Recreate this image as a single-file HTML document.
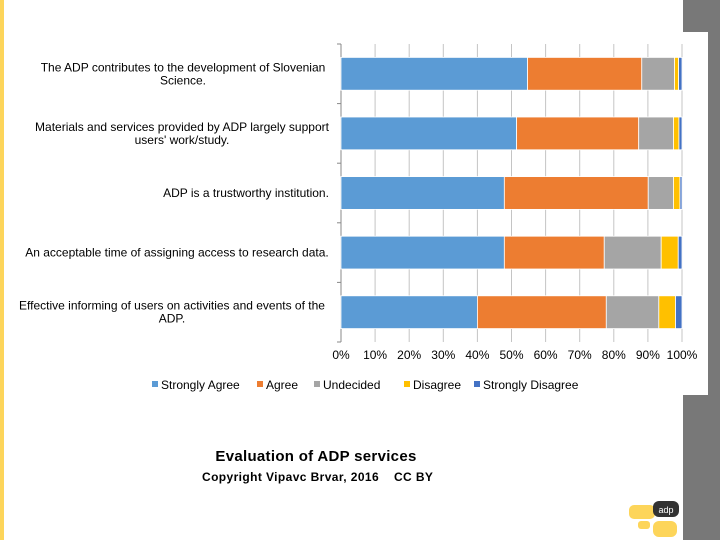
<!DOCTYPE html>
<html><head><meta charset="utf-8"><style>
body{margin:0;width:720px;height:540px;position:relative;background:#fff;font-family:"Liberation Sans",sans-serif;overflow:hidden}
</style></head><body>
<div style="position:absolute;left:0;top:0;width:4px;height:540px;background:#fdd55a"></div>
<div style="position:absolute;left:683px;top:0;width:37px;height:540px;background:#787878"></div>
<div style="position:absolute;left:10px;top:32px;width:698px;height:363px;background:#fff"></div>
<svg style="position:absolute;left:0;top:0" width="720" height="540" font-family="Liberation Sans, sans-serif">
<g id="g"></g>
</svg>
<div style="position:absolute;left:0;width:632px;top:448px;text-align:center;font-weight:bold;font-size:15px;letter-spacing:0.3px">Evaluation of ADP services</div>
<div style="position:absolute;left:202px;top:470px;font-weight:bold;font-size:12px;letter-spacing:0.4px">Copyright Vipavc Brvar, 2016&nbsp;&nbsp;&nbsp;&nbsp;CC BY</div>
<svg style="position:absolute;left:628px;top:500px" width="56" height="40">
<rect x="1" y="5" width="26" height="14" rx="5" fill="#fdd55a"/>
<rect x="10" y="21" width="12" height="8" rx="3" fill="#fdd55a"/>
<rect x="25" y="21" width="24" height="16" rx="6" fill="#fdd55a"/>
<rect x="25" y="1" width="26" height="16" rx="6" fill="#333"/>
<text x="38" y="13" font-size="9" fill="#fff" text-anchor="middle">adp</text>
</svg>
<script>
const categories=["The ADP contributes to the development of Slovenian|Science.","Materials and services provided by ADP largely support|users' work/study.","ADP is a trustworthy institution.","An acceptable time of assigning access to research data.","Effective informing of users on activities and events of the|ADP."];
const seriesNames=["Strongly Agree","Agree","Undecided","Disagree","Strongly Disagree"];
const stronglyAgree=[54.7,51.5,47.9,47.9,40];
const agree=[33.5,35.8,42.2,29.3,37.8];
const undecided=[9.6,10.2,7.4,16.7,15.4];
const disagree=[1.2,1.6,1.9,5,4.9];
const stronglyDisagree=[1.0,0.9,0.6,1.1,1.9];
const ticks=[0,10,20,30,40,50,60,70,80,90,100];
const colors=["#5b9bd5","#ed7d31","#a5a5a5","#ffc000","#4472c4"];
const X0=341,X1=682,Y0=44,Y1=342,N=categories.length,band=(Y1-Y0)/N;
const x=v=>X0+(X1-X0)*v/100;
const ns="http://www.w3.org/2000/svg",g=document.getElementById('g');
function mk(t,a){const e=document.createElementNS(ns,t);for(const k in a)e.setAttribute(k,a[k]);g.appendChild(e);return e;}
ticks.forEach(t=>{
 const l=mk('line',{x1:x(t),x2:x(t),y1:Y0,y2:Y1,stroke:t===0?'#888':'#c4c4c4','stroke-width':1});
 
 
 const tx=mk('text',{x:x(t),y:359,'font-size':12,'text-anchor':'middle',fill:'#000'});tx.textContent=t+'%';
 
 
});
for(let i=0;i<=N;i++){const tk=mk('line',{x1:X0-4,x2:X0,y1:Y0+i*band,y2:Y0+i*band,stroke:'#888'});
 
 }
const all=[stronglyAgree,agree,undecided,disagree,stronglyDisagree];
categories.forEach((c,i)=>{
 const yc=Y0+band*(i+0.5),h=band*0.55;let acc=0;
 all.forEach((s,j)=>{
  const r=mk('rect',{x:x(acc),y:yc-h/2,width:x(acc+s[i])-x(acc),height:h,fill:colors[j],stroke:'#fff','stroke-width':0.8});
  
  
  acc+=s[i];
 });
 const lines=c.split('|');
 lines.forEach((ln,k)=>{
  const t=mk('text',{x:[183,182,246,177,172][i],y:yc+4+(k-(lines.length-1)/2)*13,'font-size':12,'text-anchor':'middle',fill:'#000'});
  t.textContent=ln;
  
  
 });
});
let lx=152;
seriesNames.forEach((n,j)=>{
 const r=mk('rect',{x:lx,y:381,width:6,height:6,fill:colors[j]});
 
 
 const t=mk('text',{x:lx+9,y:389,'font-size':12,fill:'#000'});t.textContent=n;
 
 
 lx+=[105,57,90,70,0][j];
});
</script>
</body></html>
